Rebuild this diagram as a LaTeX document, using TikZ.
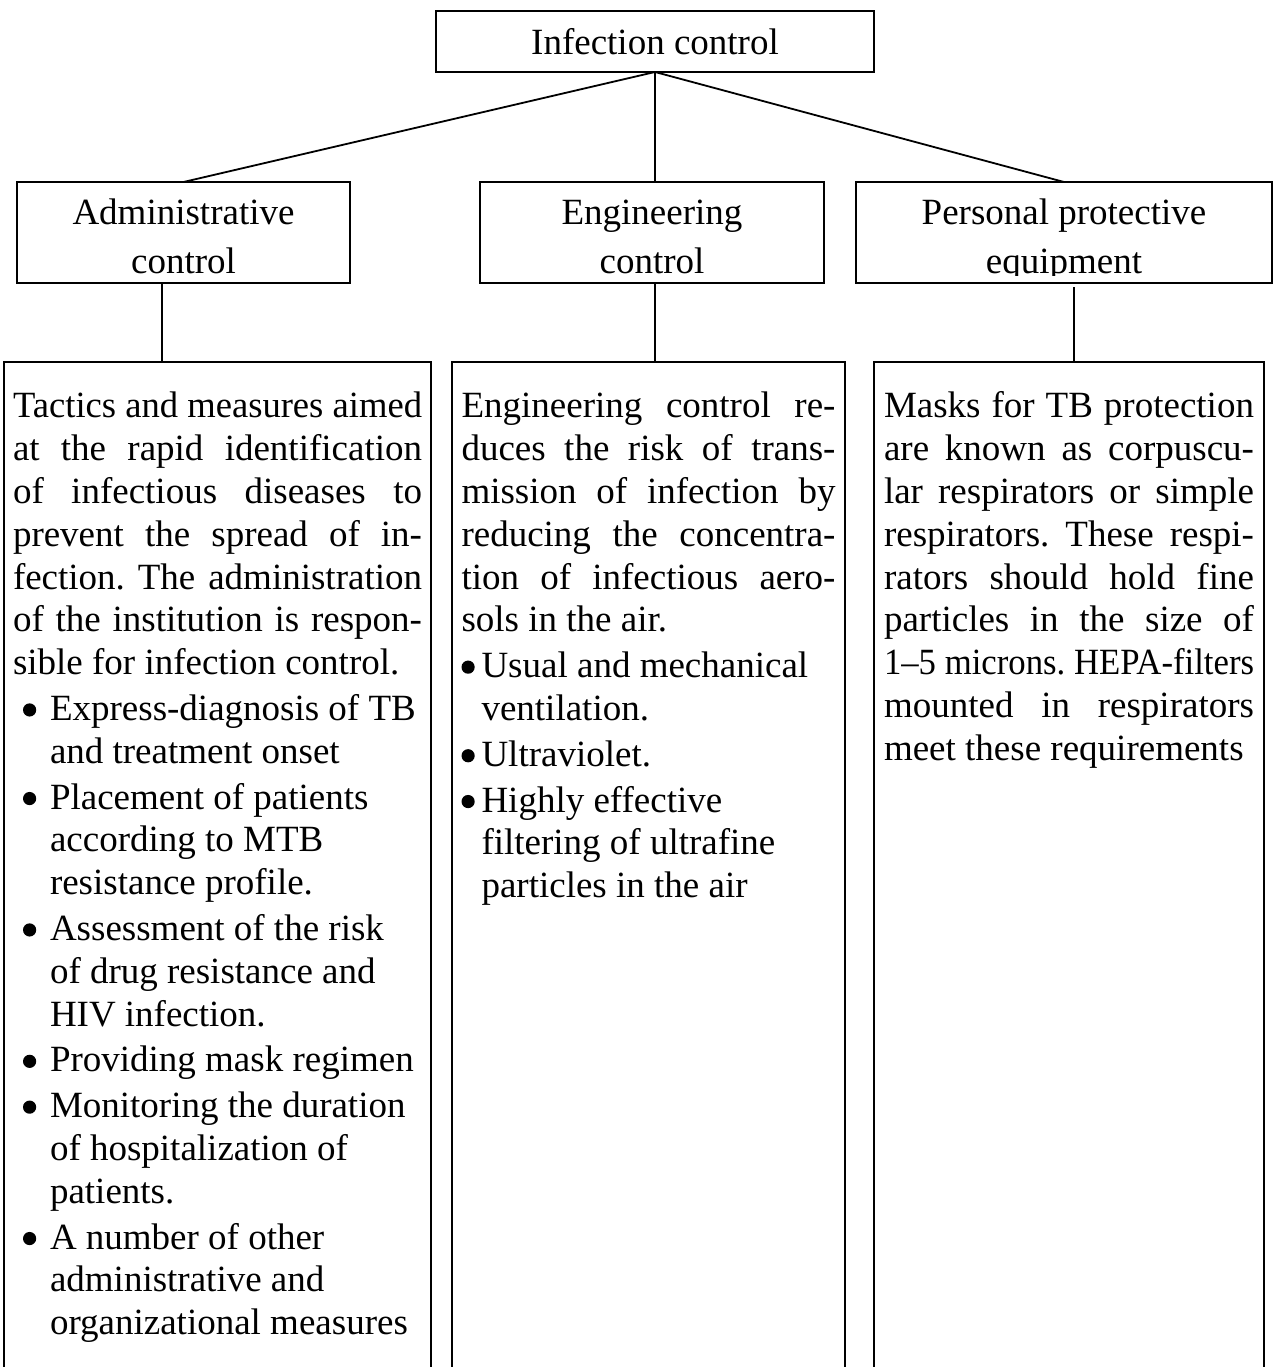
\documentclass[tikz,border=0pt]{standalone}
\usepackage{fontspec}
\setmainfont{Liberation Serif}
\usepackage{graphicx}

\newlength\fitwd
\newlength\availwd
% justified line across the column (squeezed if too long)
\newcommand\jl[1]{\par\noindent\spaceskip=0.25em plus 1em minus 0.05em\relax
  \settowidth\fitwd{#1}%
  \ifdim\fitwd>\linewidth\strut\resizebox{\linewidth}{\height}{#1}%
  \else\strut\makebox[\linewidth][s]{#1}\fi\par}
% text at natural width within \availwd (squeezed if too long)
\newcommand\fitnat[1]{\settowidth\fitwd{#1}%
  \ifdim\fitwd>\availwd\resizebox{\availwd}{\height}{#1}\else#1\fi}
% last line of a paragraph
\newcommand\plainline[1]{\par\noindent\strut\setlength\availwd{\linewidth}\fitnat{#1}\par}
% round list marker
\newcommand\blob{\tikz[baseline=0pt]\fill (6.6pt,10.5pt) circle (6.6pt);}
% bullet lists: first line with marker, following lines indented
\newcommand\wfirst[1]{\par\vspace{3pt}\noindent\strut
  \makebox[37pt][l]{\hspace{10pt}\blob}%
  \setlength\availwd{\dimexpr\linewidth-37pt\relax}\fitnat{#1}\par}
\newcommand\wnext[1]{\par\noindent\strut\hspace*{37pt}%
  \setlength\availwd{\dimexpr\linewidth-37pt\relax}\fitnat{#1}\par}
\newcommand\nfirst[1]{\par\vspace{3pt}\noindent\strut
  \makebox[20pt][l]{\blob}%
  \setlength\availwd{\dimexpr\linewidth-20pt\relax}\fitnat{#1}\par}
\newcommand\nnext[1]{\par\noindent\strut\hspace*{20pt}%
  \setlength\availwd{\dimexpr\linewidth-20pt\relax}\fitnat{#1}\par}

\tikzset{
  every node/.style={font=\fontsize{37}{42.8}\selectfont\frenchspacing, outer sep=0pt},
  box/.style={draw, line width=1.8pt, rectangle, inner sep=0pt},
  headtext/.style={align=center, anchor=base, inner sep=0pt,
    font=\fontsize{37}{49}\selectfont},
  colbox/.style={draw, line width=1.8pt, rectangle, anchor=north west,
    inner ysep=13.04pt, text depth=1100pt},
  link/.style={line width=1.8pt},
}

\begin{document}
\begin{tikzpicture}[x=1pt, y=-1pt]
\clip (0,0) rectangle (1274,1367);

% root
\node[box, minimum width=438pt, minimum height=61pt] (top) at (655,41.5)
  {Infection control};

% second level boxes
\node[box, anchor=north west, minimum width=333pt, minimum height=101pt] (adm) at (17,182) {};
\node[box, anchor=north west, minimum width=344pt, minimum height=101pt] (eng) at (480,182) {};
\node[box, anchor=north west, minimum width=416pt, minimum height=101pt] (ppe) at (856,182) {};

% headings: baseline of the last line; descenders below the frame are cut
\coordinate (headbase) at (0,273);
\begin{scope}
  \clip (adm.north west) rectangle ([yshift=8pt]adm.south east);
  \node[headtext] (admt) at (adm.center |- headbase) {Administrative\\control};
\end{scope}
\begin{scope}
  \clip (eng.north west) rectangle ([yshift=8pt]eng.south east);
  \node[headtext] (engt) at (eng.center |- headbase) {Engineering\\control};
\end{scope}
\begin{scope}
  \clip (ppe.north west) rectangle ([yshift=8pt]ppe.south east);
  \node[headtext] (ppet) at (ppe.center |- headbase) {Personal protective\\equipment};
\end{scope}

% detail columns
\node[colbox, text width=409pt, inner xsep=9pt] (admd) at (4,362) {%
  \jl{Tactics and measures aimed}
  \jl{at the rapid identification}
  \jl{of infectious diseases to}
  \jl{prevent the spread of in-}
  \jl{fection. The administration}
  \jl{of the institution is respon-}
  \plainline{sible for infection control.}
  \wfirst{Express-diagnosis of TB}
  \wnext{and treatment onset}
  \wfirst{Placement of patients}
  \wnext{according to MTB}
  \wnext{resistance profile.}
  \wfirst{Assessment of the risk}
  \wnext{of drug resistance and}
  \wnext{HIV infection.}
  \wfirst{Providing mask regimen}
  \wfirst{Monitoring the duration}
  \wnext{of hospitalization of}
  \wnext{patients.}
  \wfirst{A number of other}
  \wnext{administrative and}
  \wnext{organizational measures}};

\node[colbox, text width=374pt, inner xsep=9.5pt] (engd) at (452,362) {%
  \jl{Engineering control re-}
  \jl{duces the risk of trans-}
  \jl{mission of infection by}
  \jl{reducing the concentra-}
  \jl{tion of infectious aero-}
  \plainline{sols in the air.}
  \nfirst{Usual and mechanical}
  \nnext{ventilation.}
  \nfirst{Ultraviolet.}
  \nfirst{Highly effective}
  \nnext{filtering of ultrafine}
  \nnext{particles in the air}};

\node[colbox, text width=370pt, inner xsep=10pt] (ppd) at (874,362) {%
  \jl{Masks for TB protection}
  \jl{are known as corpuscu-}
  \jl{lar respirators or simple}
  \jl{respirators. These respi-}
  \jl{rators should hold fine}
  \jl{particles in the size of}
  \jl{1–5 microns. HEPA-filters}
  \jl{mounted in respirators}
  \plainline{meet these requirements}};

% connectors
\draw[link] (top.south) -- (adm.north);
\draw[link] (top.south) -- (top.south |- eng.north);
\draw[link] (top.south) -- (ppe.north);

\coordinate (ca) at (162,0);
\coordinate (cb) at (655,0);
\coordinate (cc) at (1074,0);
\draw[link] (ca |- adm.south) -- (ca |- admd.north);
\draw[link] (cb |- eng.south) -- (cb |- engd.north);
\draw[link, shorten <=4pt] (cc |- ppe.south) -- (cc |- ppd.north);
\end{tikzpicture}
\end{document}
